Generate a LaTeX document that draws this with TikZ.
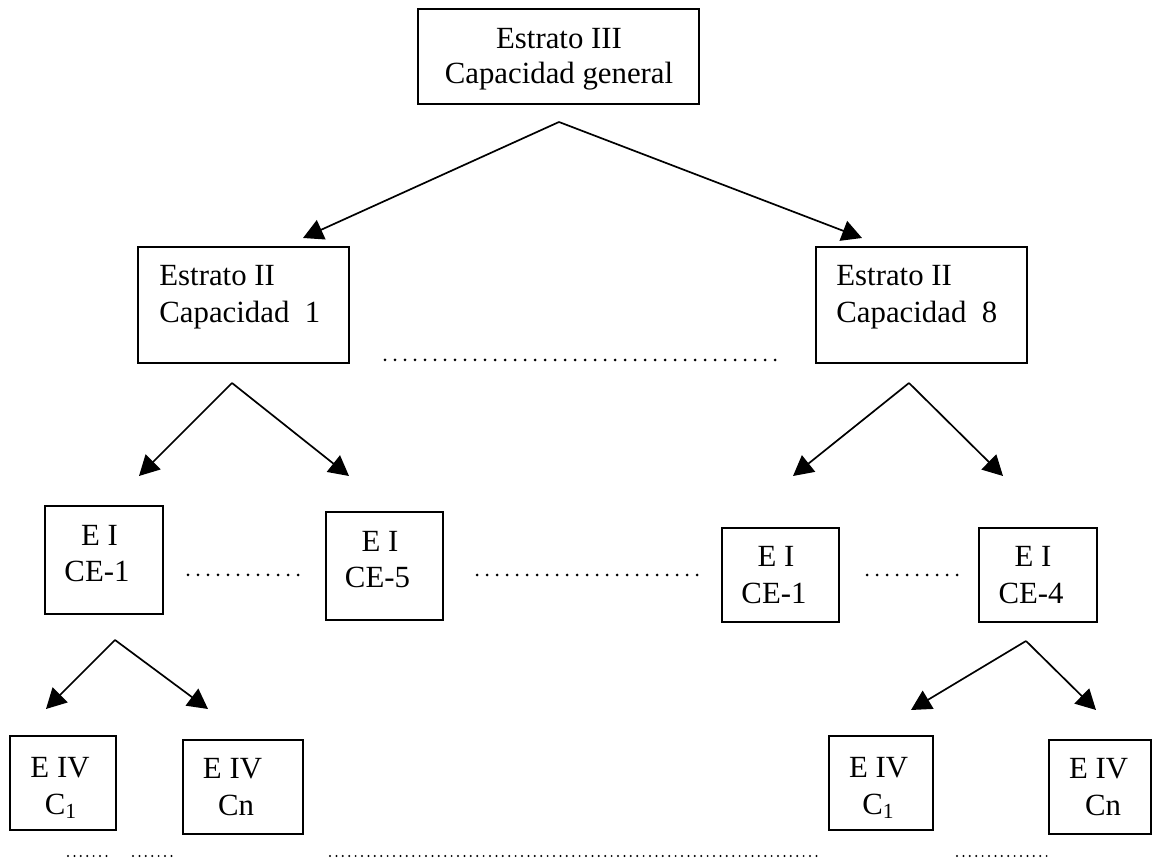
\documentclass[tikz,border=0pt]{standalone}
\usepackage{fontspec}
\setmainfont{Liberation Serif}
\usetikzlibrary{arrows.meta}
\begin{document}
\begin{tikzpicture}[x=0.5pt,y=-0.5pt,
  box/.style={draw=black, line width=1pt, inner sep=0pt},
  txt/.style={inner sep=0pt, font=\fontsize{15.4pt}{18pt}\selectfont},
  arr/.style={line width=0.85pt, -{Triangle[length=10pt,width=10.5pt]}},
  leader/.style={line width=1.5pt, line cap=round, dash pattern=on 0pt off 5pt},
  leaderfine/.style={line width=1.1pt, line cap=round, dash pattern=on 0pt off 3.2pt}]

% canvas
\path[fill=white] (0,0) rectangle (1152,860);
\useasboundingbox (0,0) rectangle (1152,860);

% ---- boxes ----
\node[box, minimum width=140.5pt, minimum height=47.5pt] (s3)   at (558.5,56.5) {};
\node[box, minimum width=105.5pt, minimum height=58pt]   (s2a)  at (243.5,305) {};
\node[box, minimum width=105.5pt, minimum height=58pt]   (s2b)  at (921.5,305) {};
\node[box, minimum width=59pt,    minimum height=54pt]   (e1a)  at (104,560) {};
\node[box, minimum width=58.5pt,  minimum height=54pt]   (e1b)  at (384.5,566) {};
\node[box, minimum width=58.5pt,  minimum height=47pt]   (e1c)  at (780.5,575) {};
\node[box, minimum width=59pt,    minimum height=47pt]   (e1d)  at (1038,575) {};
\node[box, minimum width=53pt,    minimum height=47pt]   (e4a)  at (63,783) {};
\node[box, minimum width=60pt,    minimum height=47pt]   (e4b)  at (243,787) {};
\node[box, minimum width=52pt,    minimum height=47pt]   (e4c)  at (881,783) {};
\node[box, minimum width=51pt,    minimum height=47pt]   (e4d)  at (1100,787) {};

% ---- texts ----
\node[txt, anchor=base] (s3l1) at (559,49) {Estrato III};
\node[txt, anchor=base] (s3l2) at (559,84) {Capacidad general};

\node[txt, anchor=base west] (s2al1) at (159,286) {Estrato II};
\node[txt, anchor=base west] (s2al2) at (159,323) {Capacidad\ \ 1};
\node[txt, anchor=base west] (s2bl1) at (836,286) {Estrato II};
\node[txt, anchor=base west] (s2bl2) at (836,323) {Capacidad\ \ 8};

\node[txt, anchor=base] (e1al1) at (99.5,546) {E I};
\node[txt, anchor=base] (e1al2) at (97,582) {CE-1};
\node[txt, anchor=base] (e1bl1) at (380,552) {E I};
\node[txt, anchor=base] (e1bl2) at (377.5,588) {CE-5};
\node[txt, anchor=base] (e1cl1) at (776,567) {E I};
\node[txt, anchor=base] (e1cl2) at (774,604) {CE-1};
\node[txt, anchor=base] (e1dl1) at (1033,567) {E I};
\node[txt, anchor=base] (e1dl2) at (1031,604) {CE-4};

\node[txt, anchor=base] (e4al1) at (60,777) {E IV};
\node[txt, anchor=base] (e4al2) at (61,814) {C\textsubscript{1}};
\node[txt, anchor=base] (e4bl1) at (232.5,779) {E IV};
\node[txt, anchor=base] (e4bl2) at (236,815) {Cn};
\node[txt, anchor=base] (e4cl1) at (878.5,777) {E IV};
\node[txt, anchor=base] (e4cl2) at (878.5,814) {C\textsubscript{1}};
\node[txt, anchor=base] (e4dl1) at (1098.5,779) {E IV};
\node[txt, anchor=base] (e4dl2) at (1103,815) {Cn};

% ---- arrow forks ----
\coordinate (f0) at (559,122);  \coordinate (f0l) at (303,238); \coordinate (f0r) at (862,238);
\coordinate (f1) at (232,383);  \coordinate (f1l) at (139,476); \coordinate (f1r) at (349,476);
\coordinate (f2) at (909,383);  \coordinate (f2l) at (793,476); \coordinate (f2r) at (1003,476);
\coordinate (f3) at (115,640);  \coordinate (f3l) at (46,709);  \coordinate (f3r) at (208,709);
\coordinate (f4) at (1026,641); \coordinate (f4l) at (911,710); \coordinate (f4r) at (1096,710);

\draw[arr] (f0) -- (f0l);  \draw[arr] (f0) -- (f0r);
\draw[arr] (f1) -- (f1l);  \draw[arr] (f1) -- (f1r);
\draw[arr] (f2) -- (f2l);  \draw[arr] (f2) -- (f2r);
\draw[arr] (f3) -- (f3l);  \draw[arr] (f3) -- (f3r);
\draw[arr] (f4) -- (f4l);  \draw[arr] (f4) -- (f4r);

% ---- leader dots ----
\draw[leader] (385,360) -- (782,360);
\draw[leader] (188,575) -- (305,575);
\draw[leader] (477,575) -- (697,575);
\draw[leader] (867,575) -- (962,575);

\draw[leaderfine] (68,856) -- (112,856);
\draw[leaderfine] (133,856) -- (177,856);
\draw[leaderfine] (330,856) -- (818,856);
\draw[leaderfine] (957,856) -- (1047,856);
\end{tikzpicture}
\end{document}
